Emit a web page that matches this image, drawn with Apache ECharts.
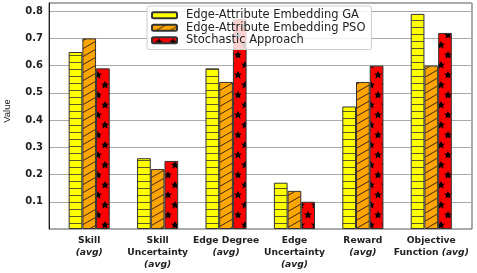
<!DOCTYPE html>
<html><head><meta charset="utf-8">
<script src="https://cdn.jsdelivr.net/npm/echarts@6/dist/echarts.min.js"></script>
<style>html,body{margin:0;padding:0;background:#fff}#c{width:477px;height:273px}</style>
</head><body><div id="c"></div>
<script>
const categories = ['Skill\n(avg)', 'Skill\nUncertainty\n(avg)', 'Edge Degree\n(avg)', 'Edge\nUncertainty\n(avg)', 'Reward\n(avg)', 'Objective\nFunction (avg)'];
const seriesNames = ['Edge-Attribute Embedding GA', 'Edge-Attribute Embedding PSO', 'Stochastic Approach'];
const gaValues = [0.65, 0.26, 0.59, 0.17, 0.45, 0.79];
const psoValues = [0.70, 0.22, 0.54, 0.14, 0.54, 0.60];
const stochValues = [0.59, 0.25, 0.77, 0.10, 0.60, 0.72];
const yTicks = [0.1, 0.2, 0.3, 0.4, 0.5, 0.6, 0.7, 0.8];

function mk(w, h, draw) {
  const c = document.createElement('canvas'); c.width = w; c.height = h;
  const g = c.getContext('2d'); draw(g, w, h); return c;
}
const yellowPat = mk(14, 7, (g, w, h) => {
  g.fillStyle = '#FFFF00'; g.fillRect(0, 0, w, h);
  g.fillStyle = '#5a5a28'; g.fillRect(0, h - 1, w, 1);
});
const orangePat = mk(14, 8, (g, w, h) => {
  g.fillStyle = '#FFA500'; g.fillRect(0, 0, w, h);
  g.strokeStyle = '#3a2a10'; g.lineWidth = 1;
  for (const dy of [-h, 0, h]) {
    g.beginPath(); g.moveTo(-2, h + dy + 2 * h / w); g.lineTo(w + 2, dy - 2 * h / w); g.stroke();
  }
});
function star(g, cx, cy, r) {
  g.beginPath();
  for (let i = 0; i < 10; i++) {
    const rr = i % 2 ? r * 0.45 : r;
    const a = -Math.PI / 2 + i * Math.PI / 5;
    const x = cx + rr * Math.cos(a), y = cy + rr * Math.sin(a);
    i ? g.lineTo(x, y) : g.moveTo(x, y);
  }
  g.closePath(); g.fill();
}
const redPat = mk(14, 20, (g, w, h) => {
  g.fillStyle = '#FF0000'; g.fillRect(0, 0, w, h);
  g.fillStyle = '#000';
  star(g, 7, 5, 4.3);
  star(g, 0, 15, 4.3); star(g, 14, 15, 4.3);
});
const pats = [yellowPat, orangePat, redPat];
const vals = [gaValues, psoValues, stochValues];

const chart = echarts.init(document.getElementById('c'), null, {renderer: 'canvas'});
const fontBase = 'DejaVu Sans';
chart.setOption({
  animation: false,
  backgroundColor: '#fff',
  grid: [
    {left: 55, right: 11.5, top: 3, bottom: 44, show: false, outerBoundsMode: 'none', containLabel: false},
    {left: 49, right: 5, top: 3, bottom: 44, show: true, borderColor: '#555', borderWidth: 1, backgroundColor: 'transparent', outerBoundsMode: 'none', containLabel: false}
  ],
  legend: {
    orient: 'vertical', left: 147, top: 6,
    padding: [3, 6, 3, 4], itemGap: 0,
    itemWidth: 25, itemHeight: 6,
    backgroundColor: 'rgba(255,255,255,0.82)', borderColor: '#ccc', borderWidth: 1, borderRadius: 2,
    textStyle: {fontFamily: fontBase, fontSize: 11.5, color: '#222', lineHeight: 12.5, padding: [0, 0, 0, 4]},
    data: seriesNames
  },
  xAxis: [
    {type: 'category', gridIndex: 0, data: categories,
     axisLine: {show: false}, axisTick: {show: false},
     axisLabel: {
       interval: 0, margin: 6, color: '#222', fontFamily: fontBase, fontWeight: 'bold', fontSize: 9.2, lineHeight: 12,
       formatter: v => v.replace('(avg)', '{i|(avg)}'),
       rich: {i: {fontFamily: fontBase, fontWeight: 'bold', fontStyle: 'italic', fontSize: 9.2, lineHeight: 12, color: '#222'}}
     }},
    {type: 'value', gridIndex: 1, show: false, min: 0, max: 1}
  ],
  yAxis: [
    {type: 'value', gridIndex: 0, min: 0, max: 0.83, show: false, splitLine: {show: false}},
    {type: 'value', gridIndex: 1, min: 0, max: 0.83, interval: 0.1,
     name: 'Value', nameLocation: 'middle', nameGap: 37,
     nameTextStyle: {fontFamily: 'Liberation Sans', fontSize: 9.5, color: '#222', padding: [0, 0, 0, 10]},
     axisLine: {show: true, lineStyle: {color: '#222'}}, axisTick: {show: false},
     splitLine: {show: true, lineStyle: {color: '#aaa', width: 1}},
     axisLabel: {showMinLabel: false, showMaxLabel: false, margin: 6, color: '#222', fontFamily: fontBase, fontWeight: 'bold', fontSize: 10,
       formatter: v => (yTicks.some(t => Math.abs(t - v) < 1e-6) ? v.toFixed(1) : '')}}
  ],
  series: seriesNames.map((n, i) => ({
    name: n, type: 'bar', xAxisIndex: 0, yAxisIndex: 0,
    data: vals[i], barWidth: 13.7, barGap: '0%',
    itemStyle: {color: {image: pats[i], repeat: 'repeat'}, borderColor: '#333', borderWidth: 1}
  }))
});
</script></body></html>
